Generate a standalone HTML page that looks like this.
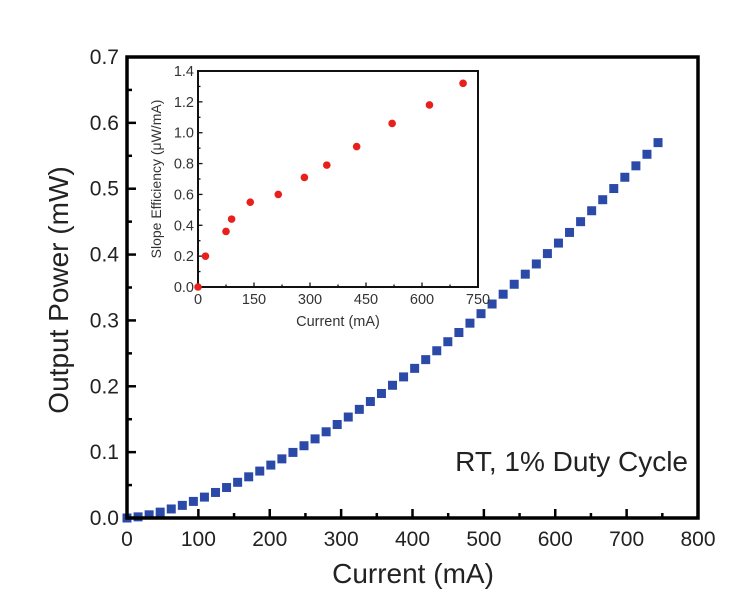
<!DOCTYPE html>
<html><head><meta charset="utf-8"><style>
html,body{margin:0;padding:0;background:#fff;}
svg{display:block;font-family:"Liberation Sans",Arial,sans-serif;}
</style></head><body>
<svg id="s" width="750" height="610" viewBox="0 0 750 610" xmlns="http://www.w3.org/2000/svg">
<rect x="0" y="0" width="750" height="610" fill="#fff"/>
<g id="main"></g>
<rect x="127" y="57" width="571" height="461" fill="none" stroke="#000" stroke-width="3.5"/>
<g font-size="21" fill="#222" text-anchor="middle" id="xl"></g>
<g font-size="21" fill="#222" text-anchor="end" id="yl"></g>
<text x="413" y="583" font-size="28" text-anchor="middle" fill="#222">Current (mA)</text>
<text transform="translate(68,290) rotate(-90)" font-size="28" text-anchor="middle" fill="#222">Output Power (mW)</text>
<text x="688" y="471" font-size="28" text-anchor="end" fill="#222">RT, 1% Duty Cycle</text>
<rect x="198" y="71" width="280" height="216" fill="#fff" stroke="#111" stroke-width="2"/>
<g id="inset"></g>
<g font-size="14.5" fill="#333" text-anchor="middle" id="ixl"></g>
<g font-size="14.5" fill="#333" text-anchor="end" id="iyl"></g>
<text x="338" y="326" font-size="14.5" text-anchor="middle" fill="#333">Current (mA)</text>
<text transform="translate(161,179) rotate(-90)" font-size="14" text-anchor="middle" fill="#333">Slope Efficiency (μW/mA)</text>
</svg>
<script>
var NS="http://www.w3.org/2000/svg";
function el(p,t,a,txt){var e=document.createElementNS(NS,t);for(var k in a)e.setAttribute(k,a[k]);if(txt!==undefined)e.textContent=txt;document.getElementById(p).appendChild(e);}
function X(i){return 127+i*571/800;}
function Y(p){return 518-p*461/0.7;}
for(var v=0;v<=800;v+=50){var x=X(v),L=v%100?5:9;el('main','line',{x1:x,y1:518,x2:x,y2:518-L,stroke:'#000','stroke-width':2.5});if(v%100==0)el('xl','text',{x:x,y:546},String(v));}
for(var k=0;k<=14;k++){var p=k*0.05,y=Y(p),L=k%2?5:9;el('main','line',{x1:127,y1:y,x2:127+L,y2:y,stroke:'#000','stroke-width':2.5});if(k%2==0)el('yl','text',{x:119,y:y+7},p.toFixed(1));}
for(var i=0;i<=48;i++){var I=i*15.5,P=0.57*Math.pow(I/744,1.5);el('main','rect',{x:X(I)-4.5,y:Y(P)-4.5,width:9,height:9,fill:'#2b4aa8'});}
function IX(i){return 198+i*280/750;}
function IY(s){return 287-s*216/1.4;}
for(var v=0;v<=750;v+=75){var x=IX(v),L=v%150?2.5:4.5;el('inset','line',{x1:x,y1:287,x2:x,y2:287-L,stroke:'#111','stroke-width':1.3});if(v%150==0)el('ixl','text',{x:x,y:304},String(v));}
for(var k=0;k<=14;k++){var s=k*0.1,y=IY(s),L=k%2?2.5:4.5;el('inset','line',{x1:198,y1:y,x2:198+L,y2:y,stroke:'#111','stroke-width':1.3});if(k%2==0)el('iyl','text',{x:194,y:y+5},s.toFixed(1));}
var pts=[[0,0],[20,0.2],[75,0.36],[90,0.44],[140,0.55],[215,0.6],[285,0.71],[345,0.79],[425,0.91],[520,1.06],[620,1.18],[710,1.32]];
pts.forEach(function(q){el('inset','circle',{cx:IX(q[0]),cy:IY(q[1]),r:3.8,fill:'#e8201c'});});
</script>
</body></html>
